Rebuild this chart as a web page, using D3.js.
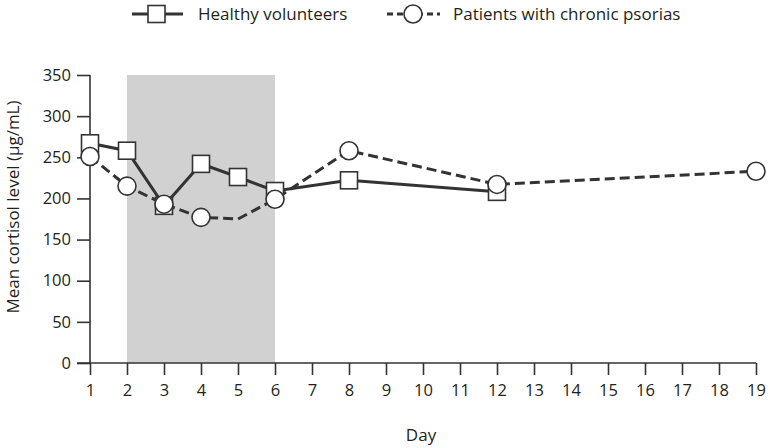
<!DOCTYPE html>
<html>
<head>
<meta charset="utf-8">
<script src="https://cdn.jsdelivr.net/npm/d3@7"></script>
<style>
  html, body { margin: 0; padding: 0; background: #fff; }
  svg { display: block; }
  text { font-family: "Open Sans", sans-serif; fill: #231f20; }
</style>
</head>
<body>
<svg id="chart" width="770" height="448"></svg>
<script>
// ---- data ----
const days = [1, 2, 3, 4, 5, 6, 8, 12, 19];
const healthy = [267, 258, 191, 242, 226, 209, 222, 208, null];
const healthyMarker = [true, true, true, true, true, true, true, true, false];
const patients = [251, 215, 193, 177, 175, 199, 258, 217, 233];
const patientsMarker = [true, true, true, true, false, true, true, true, true];
const xTicks = d3.range(1, 20);
const yTicks = [0, 50, 100, 150, 200, 250, 300, 350];
const shadedDays = [2, 6];
const seriesNames = ["Healthy volunteers", "Patients with chronic psorias"];
const xTitle = "Day";
const yTitle = "Mean cortisol level (\u03bcg/mL)";

// ---- layout ----
const svg = d3.select("#chart");
const x = d3.scaleLinear().domain([1, 19]).range([90, 756]);
const y = d3.scaleLinear().domain([0, 350]).range([363, 75]);
const ink = "#333333";

// shaded period
svg.append("rect")
  .attr("x", x(shadedDays[0]))
  .attr("y", y(350))
  .attr("width", x(shadedDays[1]) - x(shadedDays[0]))
  .attr("height", y(0) - y(350))
  .attr("fill", "#d1d1d1");

// y axis
const yAxis = svg.append("g").attr("transform", `translate(${x(1)},0)`)
  .call(d3.axisLeft(y).tickValues(yTicks).tickSize(13).tickPadding(6));
yAxis.select(".domain").attr("d", `M0,${y(350)}V${y(0)}`);
// x axis
const xAxis = svg.append("g").attr("transform", `translate(0,${y(0)})`)
  .call(d3.axisBottom(x).tickValues(xTicks).tickSize(12).tickPadding(9));
xAxis.select(".domain").attr("d", `M${x(1) - 13},0H${x(19)}`);

[yAxis, xAxis].forEach(g => {
  g.selectAll("path, line").attr("stroke", ink).attr("stroke-width", 1.6);
  g.selectAll("text").style("font-family", '"Open Sans", sans-serif')
    .style("font-size", "16.5px").attr("fill", "#231f20");
});

// titles
svg.append("text").attr("x", 421).attr("y", 441).attr("text-anchor", "middle")
  .style("font-size", "17px").text(xTitle);
svg.append("text").attr("transform", "translate(19,207) rotate(-90)")
  .attr("text-anchor", "middle").style("font-size", "17px").text(yTitle);

// lines
const line = d3.line().defined(d => d[1] != null).x(d => x(d[0])).y(d => y(d[1]));
const hData = days.map((d, i) => [d, healthy[i], healthyMarker[i]]);
const pData = days.map((d, i) => [d, patients[i], patientsMarker[i]]);

svg.append("path").datum(hData).attr("d", line)
  .attr("fill", "none").attr("stroke", ink).attr("stroke-width", 3);
svg.append("path").datum(pData).attr("d", line)
  .attr("fill", "none").attr("stroke", ink).attr("stroke-width", 3)
  .attr("stroke-dasharray", "10,5");

const sq = 17, r = 9;
svg.append("g").selectAll("rect").data(hData.filter(d => d[1] != null && d[2]))
  .join("rect")
  .attr("x", d => x(d[0]) - sq / 2).attr("y", d => y(d[1]) - sq / 2)
  .attr("width", sq).attr("height", sq)
  .attr("fill", "#fff").attr("stroke", ink).attr("stroke-width", 1.6);
svg.append("g").selectAll("circle").data(pData.filter(d => d[1] != null && d[2]))
  .join("circle")
  .attr("cx", d => x(d[0])).attr("cy", d => y(d[1])).attr("r", r)
  .attr("fill", "#fff").attr("stroke", ink).attr("stroke-width", 1.6);

// legend
const ly = 14;
const lg = svg.append("g");
lg.append("line").attr("x1", 132).attr("x2", 183).attr("y1", ly).attr("y2", ly)
  .attr("stroke", ink).attr("stroke-width", 3);
lg.append("rect").attr("x", 156.5 - sq / 2).attr("y", ly - sq / 2)
  .attr("width", sq).attr("height", sq)
  .attr("fill", "#fff").attr("stroke", ink).attr("stroke-width", 1.6);
lg.append("text").attr("x", 198).attr("y", ly).attr("dy", "0.35em")
  .style("font-size", "17px").text(seriesNames[0]);

lg.append("line").attr("x1", 387).attr("x2", 440).attr("y1", ly).attr("y2", ly)
  .attr("stroke", ink).attr("stroke-width", 3).attr("stroke-dasharray", "6,4");
lg.append("circle").attr("cx", 413).attr("cy", ly).attr("r", r)
  .attr("fill", "#fff").attr("stroke", ink).attr("stroke-width", 1.6);
lg.append("text").attr("x", 453).attr("y", ly).attr("dy", "0.35em")
  .style("font-size", "17px").text(seriesNames[1]);
</script>
</body>
</html>
